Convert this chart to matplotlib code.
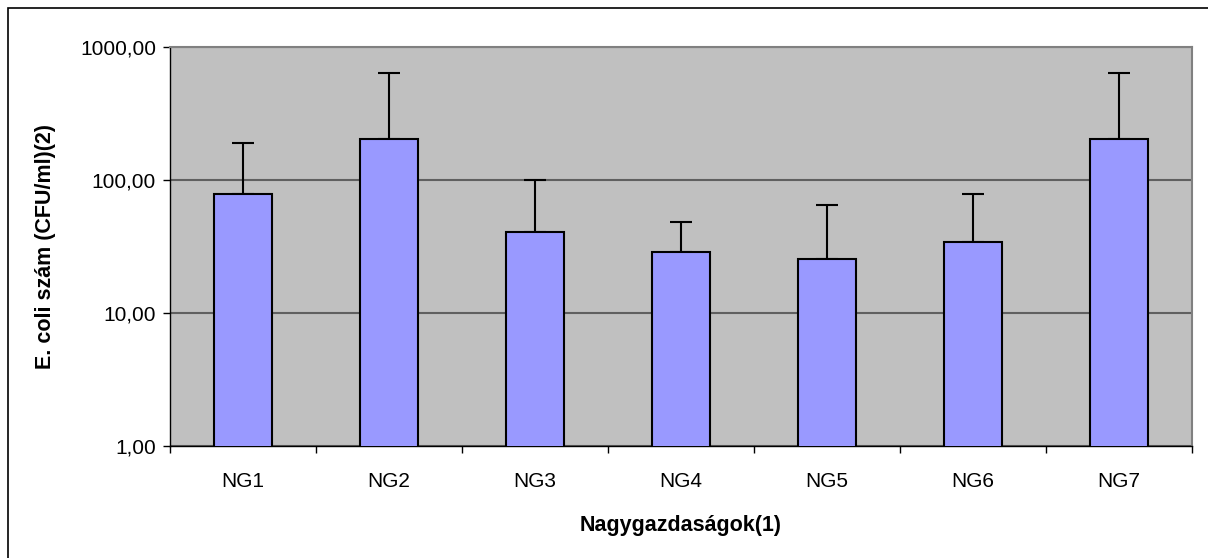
import matplotlib.pyplot as plt
from matplotlib.patches import Rectangle
from matplotlib.ticker import FixedLocator, NullLocator

# Données
categories = ['NG1', 'NG2', 'NG3', 'NG4', 'NG5', 'NG6', 'NG7']
moyennes = [79, 205, 41, 29, 25.5, 34.5, 205]
hauts_erreur = [189, 640, 100, 48.7, 64.7, 79, 640]
yticks = [1, 10, 100, 1000]
ytick_labels = ['1,00', '10,00', '100,00', '1000,00']

plt.rcParams['font.family'] = ['Liberation Sans', 'DejaVu Sans']

fig = plt.figure(figsize=(12.08, 5.58), dpi=100)
ax = fig.add_axes([170 / 1208, 1 - 446 / 558, 1022 / 1208, (446 - 47.3) / 558])

# cadre extérieur
fig.patches.append(Rectangle((8 / 1208, -0.1), 1.2, 1 - 8 / 558 + 0.1,
                             transform=fig.transFigure, fill=False,
                             edgecolor='black', linewidth=1.2, zorder=0))

x = list(range(len(categories)))
err_plus = [h - m for h, m in zip(hauts_erreur, moyennes)]
err_moins = [0] * len(moyennes)

ax.set_facecolor('#C0C0C0')
ax.bar(x, moyennes, width=0.4, color='#9999FF', edgecolor='black',
       linewidth=1.5, zorder=3)
ax.errorbar(x, moyennes, yerr=[err_moins, err_plus], fmt='none',
            ecolor='black', elinewidth=1.5, capsize=8, capthick=1.5, zorder=2)

ax.set_yscale('log')
ax.set_ylim(1, 1000)
ax.set_xlim(-0.5, len(categories) - 0.5)
ax.yaxis.set_major_locator(FixedLocator(yticks))
ax.yaxis.set_minor_locator(NullLocator())
ax.set_yticklabels(ytick_labels)
ax.grid(axis='y', color='#606060', linewidth=1.5, zorder=1)

ax.set_xticks(x)
ax.set_xticklabels(categories)
ax.tick_params(axis='x', length=0, labelsize=15, pad=19)
ax.set_xticks([i - 0.5 for i in range(len(categories) + 1)], minor=True)
ax.tick_params(axis='x', which='minor', length=5, width=1, direction='out')
ax.tick_params(axis='y', length=5, width=1, labelsize=15, pad=5)

for cote in ['top', 'right']:
    ax.spines[cote].set_color('#808080')
    ax.spines[cote].set_linewidth(1.5)
for cote in ['left', 'bottom']:
    ax.spines[cote].set_color('black')
    ax.spines[cote].set_linewidth(1)

ax.set_ylabel('E. coli szám (CFU/ml)(2)', fontsize=15.5, fontweight='bold', labelpad=17)
ax.set_xlabel('Nagygazdaságok(1)', fontsize=15.5, fontweight='bold', labelpad=17)

fig.savefig('out.png', dpi=100)
